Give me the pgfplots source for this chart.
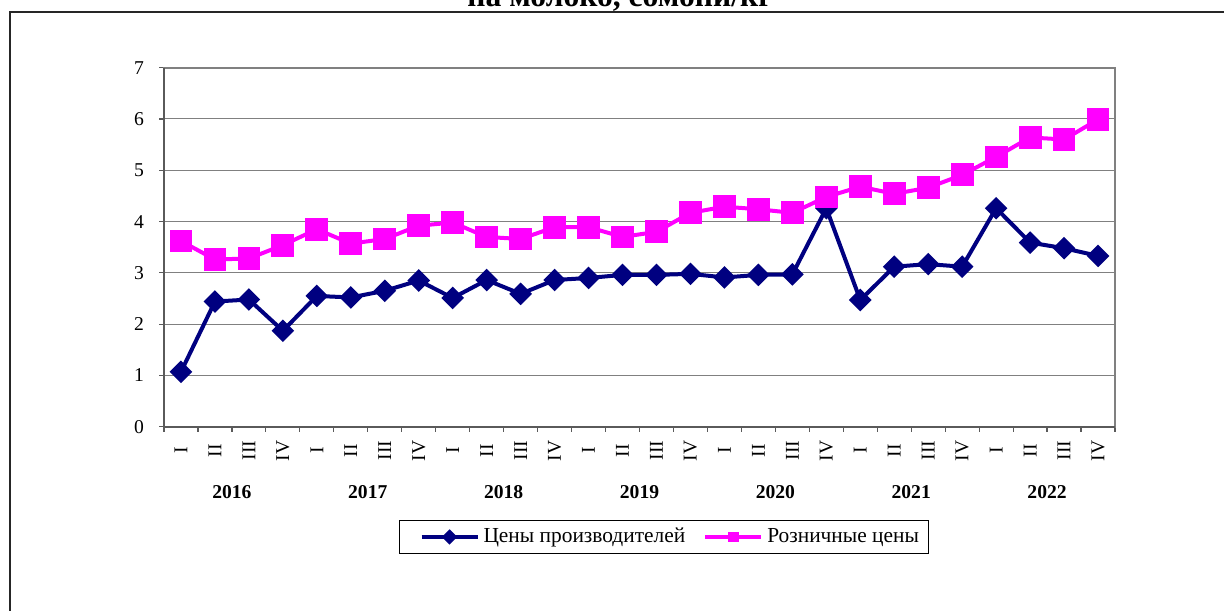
\documentclass[border=0pt]{standalone}
\usepackage{fontspec}
\setmainfont{Liberation Serif}
\usepackage{pgfplots}
\pgfplotsset{compat=1.18}
\definecolor{navyc}{RGB}{0,0,128}
\definecolor{magc}{RGB}{255,0,255}
\definecolor{gridc}{RGB}{128,128,128}
\definecolor{axc}{RGB}{90,90,90}

\begin{document}
\begin{tikzpicture}
\useasboundingbox (0,0) rectangle (612pt,305pt);
\fill[white] (0,0) rectangle (612pt,305pt);
\draw[black!85, line width=0.6pt] (5pt,-5pt) -- (5pt,299pt) -- (620pt,299pt);
\node[font=\fontsize{15.8}{18}\selectfont\bfseries, anchor=base, inner sep=0pt] at (310pt,301.5pt) {на молоко, сомони/кг};
\begin{axis}[
  at={(82pt,91.65pt)}, anchor=south west,
  scale only axis, width=475.5pt, height=179.5pt,
  xmin=-0.5, xmax=27.5, ymin=0, ymax=7,
  xtick={0,...,27},
  xticklabels={I,II,III,IV,I,II,III,IV,I,II,III,IV,I,II,III,IV,I,II,III,IV,I,II,III,IV,I,II,III,IV},
  major x tick style={draw=none},
  minor xtick={-0.5,0.5,...,27.5},
  ytick={0,1,...,7},
  tick pos=left,
  ymajorgrids,
  grid style={gridc, line width=0.5pt},
  tick align=outside,
  major tick length=2.5pt, minor tick length=2.5pt,
  tick style={axc, line width=0.6pt},
  axis line style={gridc, line width=0.9pt},
  xticklabel style={rotate=90, anchor=center, font=\fontsize{9.8}{11}\selectfont},
  xticklabel shift=9.5pt,
  yticklabel style={font=\fontsize{9.8}{11}\selectfont, xshift=-4pt},
  /pgf/number format/assume math mode=true,
  clip=false,
  legend columns=2,
  legend style={at={(0.526,-0.307)}, anchor=center, draw=black, line width=0.5pt,
    font=\fontsize{10.7}{12}\selectfont, inner xsep=3pt, inner ysep=2pt,
    /tikz/every even column/.append style={column sep=0pt}},
  legend image code/.code={\path (0pt,0pt); \draw[#1, mark repeat=2, mark phase=2, mark size=1.7pt] plot coordinates {(7pt,0pt) (21pt,0pt) (35pt,0pt)};},
]
\draw[axc, line width=0.9pt] (rel axis cs:0,1) -- (rel axis cs:0,0) -- (rel axis cs:1,0);
\addplot[navyc, line width=2pt, mark=square*, mark size=3pt, mark options={rotate=45, solid, fill=navyc}]
 coordinates {(0,1.07) (1,2.44) (2,2.48) (3,1.87) (4,2.55) (5,2.52) (6,2.65) (7,2.85)
 (8,2.51) (9,2.86) (10,2.59) (11,2.86) (12,2.90) (13,2.96) (14,2.96) (15,2.98)
 (16,2.91) (17,2.96) (18,2.97) (19,4.26) (20,2.47) (21,3.12) (22,3.17) (23,3.12)
 (24,4.26) (25,3.59) (26,3.48) (27,3.33)};
\addlegendentry{Цены производителей}
\addplot[magc, line width=2pt, mark=square*, mark size=4.7pt, mark options={solid, fill=magc}]
 coordinates {(0,3.62) (1,3.26) (2,3.28) (3,3.54) (4,3.85) (5,3.57) (6,3.66) (7,3.92)
 (8,3.98) (9,3.70) (10,3.66) (11,3.89) (12,3.89) (13,3.70) (14,3.80) (15,4.17)
 (16,4.29) (17,4.24) (18,4.17) (19,4.48) (20,4.68) (21,4.54) (22,4.66) (23,4.91)
 (24,5.26) (25,5.64) (26,5.60) (27,5.99)};
\addlegendentry{Розничные цены}
\node[font=\fontsize{9.8}{11}\selectfont\bfseries, yshift=-32.6pt] at (axis cs:1.5,0) {2016};
\node[font=\fontsize{9.8}{11}\selectfont\bfseries, yshift=-32.6pt] at (axis cs:5.5,0) {2017};
\node[font=\fontsize{9.8}{11}\selectfont\bfseries, yshift=-32.6pt] at (axis cs:9.5,0) {2018};
\node[font=\fontsize{9.8}{11}\selectfont\bfseries, yshift=-32.6pt] at (axis cs:13.5,0) {2019};
\node[font=\fontsize{9.8}{11}\selectfont\bfseries, yshift=-32.6pt] at (axis cs:17.5,0) {2020};
\node[font=\fontsize{9.8}{11}\selectfont\bfseries, yshift=-32.6pt] at (axis cs:21.5,0) {2021};
\node[font=\fontsize{9.8}{11}\selectfont\bfseries, yshift=-32.6pt] at (axis cs:25.5,0) {2022};
\end{axis}
\end{tikzpicture}
\end{document}
